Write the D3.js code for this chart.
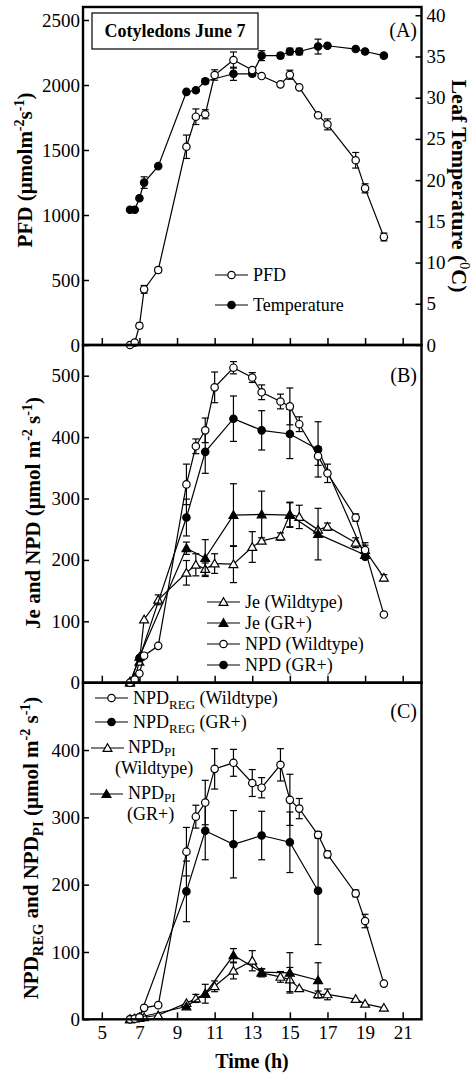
<!DOCTYPE html>
<html>
<head>
<meta charset="utf-8">
<script src="https://cdn.jsdelivr.net/npm/d3@7"></script>
<style>
  body { margin: 0; background: #fff; }
  svg { display: block; }
  text { font-family: "Liberation Serif", "Times New Roman", serif; fill: #000; }
  .tick line { stroke: #000; stroke-width: 1.5; }
  .tick text { font-size: 19px; }
</style>
</head>
<body>
<div id="chart"></div>
<script>
// ---- data ----
// panel A
var timesPFD = [6.5, 6.75, 7, 7.25, 8, 9.5, 10, 10.5, 11, 12, 13, 13.5, 14.5, 15, 15.5, 16.5, 17, 18.5, 19, 20];
var pfd = [0, 18, 148, 428, 577, 1525, 1756, 1775, 2077, 2192, 2115, 2069, 2005, 2079, 1982, 1767, 1697, 1421, 1205, 831];
var pfdErr = [0, 0, 20, 30, 20, 90, 60, 35, 40, 62, 15, 0, 0, 35, 0, 0, 42, 60, 35, 30];
var timesTemp = [6.5, 6.75, 7, 7.25, 8, 9.5, 10, 10.5, 12, 13, 13.5, 14.5, 15, 15.5, 16.5, 17, 18.5, 19, 20];
var temp = [16.4, 16.4, 17.8, 19.7, 21.7, 30.7, 30.9, 32.0, 32.9, 32.9, 35.1, 35.1, 35.6, 35.6, 36.2, 36.3, 35.9, 35.6, 35.1];
var tempErr = [0, 0, 0, 0.7, 0, 0, 0, 0.3, 0.8, 0.3, 0.6, 0.3, 0.4, 0.4, 0.9, 0, 0, 0, 0];

// panel B and C, wildtype
var timesWT = [6.5, 6.75, 7, 7.25, 8, 9.5, 10, 10.5, 11, 12, 13, 13.5, 14.5, 15, 15.5, 16.5, 17, 18.5, 19, 20];
var jeWT = [2, 8, 34, 103, 135, 179, 192, 185, 194, 193, 221, 231, 238, 274, 270, 249, 254, 228, 216, 171];
var jeWTErr = [0, 0, 0, 0, 8, 20, 18, 10, 16, 30, 25, 0, 6, 20, 19, 0, 6, 8, 8, 5];
var npdWT = [0, 5, 15, 44, 60, 323, 385, 411, 481, 513, 497, 473, 458, 450, 421, 369, 341, 269, 216, 111];
var npdWTErr = [0, 0, 0, 0, 0, 33, 12, 20, 25, 10, 8, 12, 12, 30, 12, 15, 15, 6, 12, 0];
var regWT = [0, 1, 3, 17, 21, 249, 301, 322, 372, 381, 351, 344, 378, 326, 313, 274, 245, 187, 146, 53];
var regWTErr = [0, 0, 0, 0, 0, 36, 17, 33, 30, 20, 20, 15, 24, 38, 15, 5, 5, 5, 10, 0];
var piWT = [0, 1, 2, 3, 6, 24, 31, 38, 49, 72, 87, 69, 63, 59, 46, 37, 37, 30, 23, 17];
var piWTErr = [0, 0, 0, 0, 0, 0, 6, 14, 8, 12, 15, 6, 8, 18, 0, 5, 8, 0, 0, 0];

// panel B and C, GR+
var timesGR = [6.5, 7, 9.5, 10.5, 12, 13.5, 15, 16.5, 19];
var jeGR = [0, 42, 219, 203, 273, 274, 273, 242, 208];
var jeGRErr = [0, 0, 10, 30, 51, 38, 20, 42, 0];
var npdGR = [0, 40, 269, 376, 430, 411, 405, 380, 205];
var npdGRErr = [0, 0, 30, 35, 37, 32, 40, 45, 0];
var timesGRc = [6.5, 7, 9.5, 10.5, 12, 13.5, 15, 16.5];
var regGR = [0, 3, 190, 280, 260, 273, 263, 191];
var regGRErr = [0, 0, 45, 43, 50, 36, 45, 80];
var piGR = [0, 3, 19, 38, 95, 70, 69, 58];
var piGRErr = [0, 0, 0, 0, 10, 5, 30, 26];

var xTicks = [5, 7, 9, 11, 13, 15, 17, 19, 21];

// ---- layout ----
var W = 472, H = 1074;
var left = 83, right = 421.5;
var topA = 7, botA = 345, botB = 682.7, botC = 1019.3;

var svg = d3.select("#chart").append("svg")
  .attr("width", W).attr("height", H);

var x = d3.scaleLinear().domain([4, 22]).range([left, right]);
var yA = d3.scaleLinear().domain([0, 2600]).range([botA, topA]);
var yT = d3.scaleLinear().domain([0, 41]).range([botA, topA]);
var yB = d3.scaleLinear().domain([0, 550]).range([botB, botA]);
var yC = d3.scaleLinear().domain([0, 500]).range([botC, botB]);

function zip(ts, vs, es) {
  return ts.map(function (t, i) { return { t: t, v: vs[i], e: es ? es[i] : 0 }; });
}

// axes (ticks point inward)
function xAxis(bottom, labels) {
  var g = svg.append("g")
    .attr("transform", "translate(0," + bottom + ")")
    .call(d3.axisBottom(x).tickValues(xTicks).tickSize(-7).tickPadding(6)
      .tickFormat(labels ? d3.format("d") : ""));
  g.select(".domain").remove();
}
function yAxis(scale, ticks) {
  var g = svg.append("g")
    .attr("transform", "translate(" + left + ",0)")
    .call(d3.axisLeft(scale).tickValues(ticks).tickSize(-6).tickPadding(3).tickFormat(d3.format("d")));
  g.select(".domain").remove();
}

xAxis(botA, false);
xAxis(botB, false);
xAxis(botC, true);
yAxis(yA, d3.range(0, 2501, 500));
yAxis(yB, d3.range(0, 501, 100));
yAxis(yC, d3.range(0, 401, 100));

var gr = svg.append("g")
  .attr("transform", "translate(" + right + ",0)")
  .call(d3.axisRight(yT).tickValues(d3.range(0, 41, 5)).tickSize(-6).tickPadding(5).tickFormat(d3.format("d")));
gr.select(".domain").remove();

// series drawing
var tri = d3.symbol().type(d3.symbolTriangle).size(34);

function series(data, y, kind) {
  var g = svg.append("g");
  g.append("path")
    .datum(data)
    .attr("fill", "none")
    .attr("stroke", "#000")
    .attr("stroke-width", 1.2)
    .attr("d", d3.line().x(function (d) { return x(d.t); }).y(function (d) { return y(d.v); }));

  var eb = g.selectAll(".eb").data(data.filter(function (d) { return d.e > 0; }))
    .enter().append("g");
  eb.append("line")
    .attr("x1", function (d) { return x(d.t); }).attr("x2", function (d) { return x(d.t); })
    .attr("y1", function (d) { return y(d.v - d.e); }).attr("y2", function (d) { return y(d.v + d.e); })
    .attr("stroke", "#000").attr("stroke-width", 1.2);
  [-1, 1].forEach(function (s) {
    eb.append("line")
      .attr("x1", function (d) { return x(d.t) - 3.5; }).attr("x2", function (d) { return x(d.t) + 3.5; })
      .attr("y1", function (d) { return y(d.v + s * d.e); }).attr("y2", function (d) { return y(d.v + s * d.e); })
      .attr("stroke", "#000").attr("stroke-width", 1.2);
  });

  marker(g.selectAll(".m").data(data).enter(), kind,
    function (d) { return x(d.t); }, function (d) { return y(d.v); });
}

function marker(sel, kind, fx, fy) {
  var filled = kind === "dot" || kind === "tri";
  if (kind === "dot" || kind === "circle") {
    sel.append("circle")
      .attr("cx", fx).attr("cy", fy).attr("r", 3.7)
      .attr("fill", filled ? "#000" : "#fff")
      .attr("stroke", "#000").attr("stroke-width", 1.2);
  } else {
    sel.append("path")
      .attr("d", tri)
      .attr("transform", function (d) { return "translate(" + fx(d) + "," + (fy(d) + 0.8) + ")"; })
      .attr("fill", filled ? "#000" : "#fff")
      .attr("stroke", "#000").attr("stroke-width", 1.2);
  }
}

// panel A
series(zip(timesTemp, temp, tempErr), yT, "dot");
series(zip(timesPFD, pfd, pfdErr), yA, "circle");
// panel B
series(zip(timesWT, jeWT, jeWTErr), yB, "otri");
series(zip(timesGR, jeGR, jeGRErr), yB, "tri");
series(zip(timesGR, npdGR, npdGRErr), yB, "dot");
series(zip(timesWT, npdWT, npdWTErr), yB, "circle");
// panel C
series(zip(timesWT, piWT, piWTErr), yC, "otri");
series(zip(timesGRc, piGR, piGRErr), yC, "tri");
series(zip(timesGRc, regGR, regGRErr), yC, "dot");
series(zip(timesWT, regWT, regWTErr), yC, "circle");

// frames
[[topA, botA], [botA, botB], [botB, botC]].forEach(function (p) {
  svg.append("rect")
    .attr("x", left).attr("y", p[0])
    .attr("width", right - left).attr("height", p[1] - p[0])
    .attr("fill", "none").attr("stroke", "#000").attr("stroke-width", 2.4);
});

// panel tags
function tag(txt, y) {
  svg.append("text").attr("x", 417).attr("y", y)
    .attr("text-anchor", "end").style("font-size", "20px").text(txt);
}
tag("(A)", 37);
tag("(B)", 382);
tag("(C)", 718);

// title box
svg.append("rect").attr("x", 92).attr("y", 13).attr("width", 166).attr("height", 36)
  .attr("fill", "#fff").attr("stroke", "#000").attr("stroke-width", 1.2);
svg.append("text").attr("x", 175).attr("y", 37).attr("text-anchor", "middle")
  .style("font-size", "18px").style("font-weight", "bold").text("Cotyledons June 7");

// legends
function legendItem(x0, x1, y, kind) {
  svg.append("line").attr("x1", x0).attr("x2", x1).attr("y1", y).attr("y2", y)
    .attr("stroke", "#000").attr("stroke-width", 1.2);
  marker(svg.selectAll(null).data([0]).enter(), kind,
    function () { return (x0 + x1) / 2; }, function () { return y; });
}
function legendText(x0, y, txt) {
  return svg.append("text").attr("x", x0).attr("y", y + 6).style("font-size", "18px").text(txt);
}

legendItem(215, 248, 275, "circle"); legendText(253, 275, "PFD");
legendItem(215, 248, 305, "dot"); legendText(253, 305, "Temperature");

var legB = [["otri", "Je (Wildtype)"], ["tri", "Je (GR+)"], ["circle", "NPD (Wildtype)"], ["dot", "NPD (GR+)"]];
legB.forEach(function (l, i) {
  var yy = 602 + i * 21;
  legendItem(207, 240, yy, l[0]);
  legendText(245, yy, l[1]);
});

function subText(t, x0, y, main, sub, rest, drop) {
  t.attr("x", x0).attr("y", y + 6);
  t.append("tspan").text(main);
  t.append("tspan").attr("dy", drop).style("font-size", "13px").text(sub);
  if (rest) t.append("tspan").attr("dy", -drop).text(rest);
}
legendItem(95, 128, 698, "circle");
subText(svg.append("text").style("font-size", "18px"), 133, 698, "NPD", "REG", " (Wildtype)", 5);
legendItem(95, 128, 722, "dot");
subText(svg.append("text").style("font-size", "18px"), 133, 722, "NPD", "REG", " (GR+)", 5);
legendItem(91, 124, 748, "otri");
subText(svg.append("text").style("font-size", "18px"), 128, 747, "NPD", "PI", "", 3);
legendText(115, 768, "(Wildtype)");
legendItem(90, 123, 794, "tri");
subText(svg.append("text").style("font-size", "18px"), 128, 793, "NPD", "PI", "", 3);
legendText(127, 814, "(GR+)");

// axis titles
var la = svg.append("text").attr("transform", "translate(32,170) rotate(-90)")
  .attr("text-anchor", "middle").style("font-size", "21px").style("font-weight", "bold");
la.append("tspan").text("PFD (\u03bcmolm");
la.append("tspan").attr("dy", -8).style("font-size", "14px").text("-2");
la.append("tspan").attr("dy", 8).text("s");
la.append("tspan").attr("dy", -8).style("font-size", "14px").text("-1");
la.append("tspan").attr("dy", 8).text(")");

var ra = svg.append("text").attr("transform", "translate(452,186) rotate(90)")
  .attr("text-anchor", "middle").style("font-size", "22px").style("font-weight", "bold");
ra.append("tspan").text("Leaf Temperature (");
ra.append("tspan").attr("dy", -8).style("font-size", "14px").style("font-weight", "normal").text("0");
ra.append("tspan").attr("dy", 8).text("C)");

var lb = svg.append("text").attr("transform", "translate(40,513) rotate(-90)")
  .attr("text-anchor", "middle").style("font-size", "21px").style("font-weight", "bold");
lb.append("tspan").text("Je and  NPD  (\u03bcmol m");
lb.append("tspan").attr("dy", -8).style("font-size", "14px").text("-2");
lb.append("tspan").attr("dy", 8).text(" s");
lb.append("tspan").attr("dy", -8).style("font-size", "14px").text("-1");
lb.append("tspan").attr("dy", 8).text(")");

var lc = svg.append("text").attr("transform", "translate(38,848) rotate(-90)")
  .attr("text-anchor", "middle").style("font-size", "21px").style("font-weight", "bold");
lc.append("tspan").text("NPD");
lc.append("tspan").attr("dy", 5).style("font-size", "15px").text("REG");
lc.append("tspan").attr("dy", -5).text(" and NPD");
lc.append("tspan").attr("dy", 5).style("font-size", "15px").text("PI");
lc.append("tspan").attr("dy", -5).text(" (\u03bcmol m");
lc.append("tspan").attr("dy", -8).style("font-size", "14px").text("-2");
lc.append("tspan").attr("dy", 8).text(" s");
lc.append("tspan").attr("dy", -8).style("font-size", "14px").text("-1");
lc.append("tspan").attr("dy", 8).text(")");

svg.append("text").attr("x", 252).attr("y", 1068).attr("text-anchor", "middle")
  .style("font-size", "20px").style("font-weight", "bold").text("Time (h)");
</script>
</body>
</html>
